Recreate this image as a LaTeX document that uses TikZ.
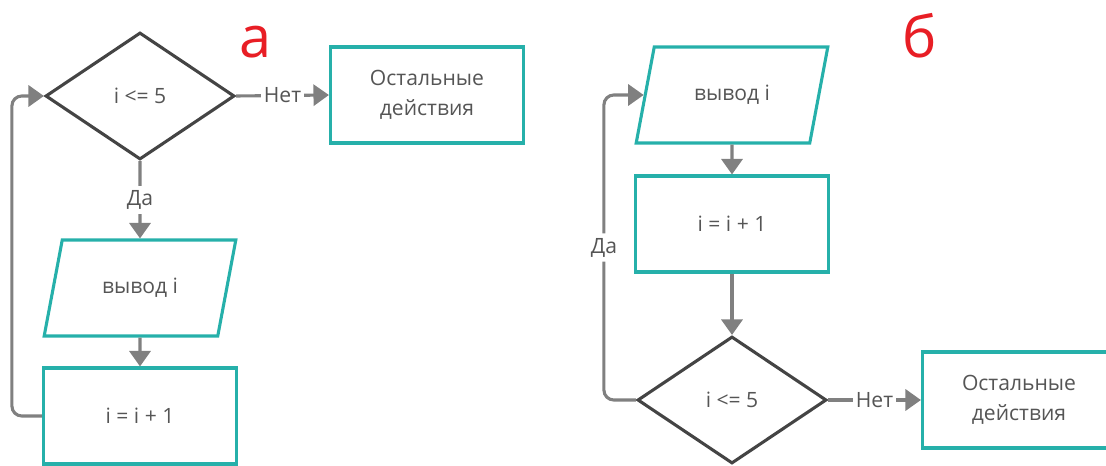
\documentclass[tikz,border=0pt]{standalone}
\usepackage{fontspec}
\setmainfont{Open Sans}
\usetikzlibrary{shapes.geometric,arrows.meta}
\definecolor{boxteal}{RGB}{38,176,170}
\definecolor{linegray}{RGB}{128,128,128}
\definecolor{rhombgray}{RGB}{68,68,68}
\definecolor{textgray}{RGB}{85,85,85}
\definecolor{markred}{RGB}{232,30,37}

\begin{document}
\begin{tikzpicture}[x=0.025cm, y=-0.025cm,
	every node/.style={font=\fontsize{15}{21}\selectfont, text=textgray},
	box/.style={draw=boxteal, line width=2.2pt, minimum width=4.825cm, minimum height=2.4cm, align=center},
	io/.style={trapezium, trapezium left angle=71, trapezium right angle=109, trapezium stretches,
		draw=boxteal, line width=2.2pt, minimum width=4.825cm, minimum height=2.4cm},
	cond/.style={diamond, draw=rhombgray, line width=2.2pt, minimum width=4.725cm, minimum height=3.175cm, inner sep=0pt},
	flow/.style={draw=linegray, line width=2.2pt, -{Triangle[width=15pt,length=11pt]}},
	backflow/.style={flow, rounded corners=7pt},
	letterred/.style={font=\fontsize{41}{41}\selectfont, text=markred, anchor=base}]
			\useasboundingbox (0,0) rectangle (1106,466);
			% a
			\node [cond] (testa) at (140,96) {i <= 5};
			\node [box] (resta) at (427,95) {Остальные\\действия};
			\node [io] (outa) at (140,288) {вывод i};
			\node [box] (inca) at (140,416) {i = i + 1};
			\draw [flow] (testa.east) -- node [fill=white, inner sep=2pt] {Нет} (resta.west);
			\draw [flow] (testa.south) -- node [fill=white] {Да} (outa.north);
			\draw [flow] (outa.south) -- (inca.north);
			\draw [backflow] (inca.west) -- ++(-30,0) |- (testa.west);
			\node [letterred] (marka) at (256,58) {а};
			% b
			\node [io] (outb) at (732,95) {вывод i};
			\node [box] (incb) at (732,224) {i = i + 1};
			\node [cond] (testb) at (732,400) {i <= 5};
			\node [box] (restb) at (1019,400) {Остальные\\действия};
			\draw [flow] (outb.south) -- (incb.north);
			\draw [flow] (incb.south) -- (testb.north);
			\draw [flow] (testb.east) -- node [fill=white, inner sep=2pt] {Нет} (restb.west);
			\draw [backflow] (testb.west) -- ++(-32,0) |- node [pos=0.25, fill=white] {Да} (outb.west);
			\node [letterred] (markb) at (920,58) {б};
\end{tikzpicture}
\end{document}
